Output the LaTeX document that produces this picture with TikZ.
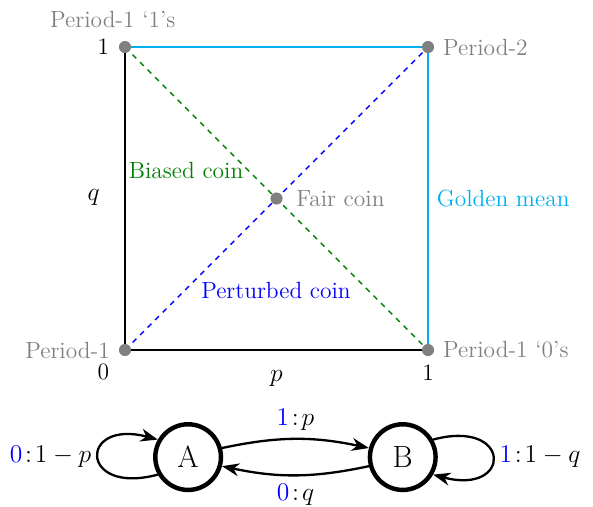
\documentclass[tikz,border=0pt]{standalone}
\usepackage{amsmath, amssymb}
\usepackage{tikz}
\usetikzlibrary{arrows.meta, positioning, calc}

\definecolor{goldline}{RGB}{0,174,239}
\definecolor{coingreen}{RGB}{0,128,0}

\begin{document}
\begin{tikzpicture}[
    font=\fontsize{13.2}{16}\selectfont,
    >={Stealth[scale=1.1]},
    side/.style={thick},
    diag/.style={thick, dashed},
    dot/.style={circle, fill=gray, inner sep=0pt, minimum size=0.24cm},
    plbl/.style={text=gray},
    mlbl/.style={font=\fontsize{14.4}{17}\selectfont},
    state/.style={circle, draw, line width=2.5pt, minimum size=1.3cm, inner sep=0pt, font=\LARGE},
    trans/.style={->, line width=1.3pt}
]
\useasboundingbox (-2.475,-3.089) rectangle (9.267,6.931);

% Square
\coordinate (c00) at (0,0);
\coordinate (c10) at (6,0);
\coordinate (c01) at (0,6);
\coordinate (c11) at (6,6);
\coordinate (mid) at (3,3);

\draw[side] (c01) -- (c00) -- (c10);
\draw[side, goldline] (c01) -- (c11) -- (c10);
\draw[diag, coingreen] (c01) -- (c10);
\draw[diag, blue] (c00) -- (c11);

% Dots
\node[dot] (p00) at (c00) {};
\node[dot] (p10) at (c10) {};
\node[dot] (p01) at (c01) {};
\node[dot] (p11) at (c11) {};
\node[dot] (fair) at (mid) {};

% Corner labels
\node[plbl] (l01) at (-0.24,6.55) {Period-1 `1's};
\node[plbl, right=0.05cm of p11] (l11) {Period-2};
\node[plbl, left=0.05cm of p00] (l00) {Period-1};
\node[plbl, right=0.05cm of p10] (l10) {Period-1 `0's};
\node[plbl, right=0.14cm of fair] (lfair) {Fair coin};

\node[coingreen] (lbias) at (1.21,3.56) {Biased coin};
\node[blue] (lpert) at (2.99,1.17) {Perturbed coin};
\node[goldline, anchor=west] (lgold) at (6.05,3) {Golden mean};

% Axis ticks
\node (t0) at (-0.43,-0.44) {0};
\node (t1x) at (6,-0.44) {1};
\node (t1y) at (-0.43,6) {1};
\node[mlbl] (lp) at (3,-0.56) {$p$};
\node[mlbl] (lq) at (-0.62,3.03) {$q$};

% Machine
\node[state] (A) at (1.25,-2.12) {A};
\node[state] (B) at (5.5,-2.12) {B};

\draw[trans] (A.15) to[bend left=12] node[mlbl, midway, above=1pt] {$\textcolor{blue}{1}\!:\!p$} (B.165);
\draw[trans] (B.195) to[bend left=12] node[mlbl, midway, below=1pt] {$\textcolor{blue}{0}\!:\!q$} (A.-15);
\draw[trans] (A.210) to[out=195, in=165, looseness=6] node[mlbl, left=0pt] {$\textcolor{blue}{0}\!:\!1-p$} (A.150);
\draw[trans] (B.30) to[out=15, in=-15, looseness=6] node[mlbl, right=0pt] {$\textcolor{blue}{1}\!:\!1-q$} (B.-30);

\end{tikzpicture}
\end{document}
